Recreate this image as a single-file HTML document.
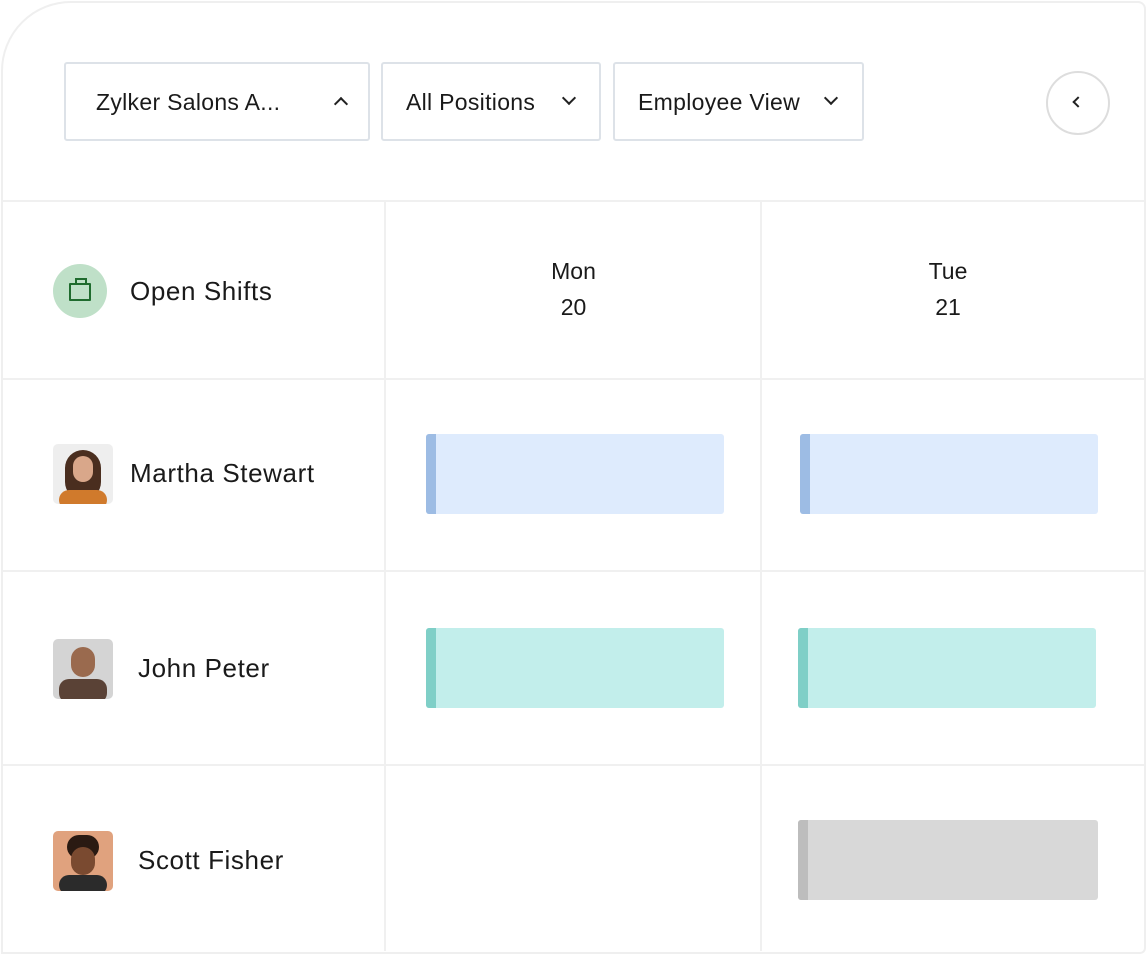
<!DOCTYPE html>
<html><head><style>
body{margin:0;width:1147px;height:954px;background:#fff;font-family:"Liberation Sans",sans-serif;color:#1a1a1a;position:relative;overflow:hidden}
.a{position:absolute}
.card{left:1px;top:1px;width:1141px;height:949px;border:2px solid #efefef;border-top-left-radius:70px;border-top-right-radius:8px;border-bottom-right-radius:6px}
.hl{height:2px;background:#f0f0f0;left:3px;width:1141px}
.vl{width:2px;background:#f0f0f0;top:201px;height:750px}
.dd{border:2px solid #dde2e8;border-radius:3px;height:79px;top:62px;font-size:23px;line-height:77px;box-sizing:border-box;letter-spacing:0.3px}
.chev{position:absolute;width:8px;height:8px;border-right:2px solid #222;border-bottom:2px solid #222}
.name{font-size:26px;letter-spacing:0.6px}
.bar{border-radius:3px;height:80px}
.bar i{position:absolute;left:0;top:0;bottom:0;width:10px;border-radius:3px 0 0 3px}
.av{width:60px;height:60px;border-radius:5px;overflow:hidden}
</style></head><body>
<div class="a card"></div>
<div class="a dd" style="left:64px;width:306px"><span style="margin-left:30px">Zylker Salons A...</span><div class="chev" style="left:270px;top:35px;transform:rotate(-135deg)"></div></div>
<div class="a dd" style="left:381px;width:220px"><span style="margin-left:23px">All Positions</span><div class="chev" style="left:181px;top:29px;transform:rotate(45deg)"></div></div>
<div class="a dd" style="left:613px;width:251px"><span style="margin-left:23px">Employee View</span><div class="chev" style="left:211px;top:29px;transform:rotate(45deg)"></div></div>
<div class="a" style="left:1046px;top:71px;width:60px;height:60px;border:2px solid #ddd;border-radius:50%"></div>
<div class="chev" style="left:1074px;top:98px;width:6px;height:6px;transform:rotate(135deg)"></div>

<div class="a hl" style="top:200px"></div>
<div class="a hl" style="top:378px"></div>
<div class="a hl" style="top:570px"></div>
<div class="a hl" style="top:764px"></div>
<div class="a vl" style="left:384px"></div>
<div class="a vl" style="left:760px"></div>

<div class="a" style="left:53px;top:264px;width:54px;height:54px;border-radius:50%;background:#bfe0c8"></div>
<div class="a" style="left:69px;top:283px;width:18px;height:14px;border:2.5px solid #1f6b2e;border-radius:1px"></div>
<div class="a" style="left:75px;top:278px;width:8px;height:5px;border:2px solid #1f6b2e;border-bottom:none"></div>
<div class="a name" style="left:130px;top:276px">Open Shifts</div>
<div class="a" style="left:386px;width:375px;top:253px;text-align:center;font-size:23px;line-height:36px">Mon<br>20</div>
<div class="a" style="left:762px;width:372px;top:253px;text-align:center;font-size:23px;line-height:36px">Tue<br>21</div>

<div class="a av" style="left:53px;top:444px;background:#eee"><div class="a" style="left:12px;top:6px;width:36px;height:50px;border-radius:18px;background:#4a2e1f"></div><div class="a" style="left:20px;top:12px;width:20px;height:26px;border-radius:10px;background:#d9a78a"></div><div class="a" style="left:6px;top:46px;width:48px;height:20px;border-radius:10px;background:#d07a2c"></div></div>
<div class="a name" style="left:130px;top:458px">Martha Stewart</div>
<div class="a av" style="left:53px;top:639px;background:#d4d4d4"><div class="a" style="left:18px;top:8px;width:24px;height:30px;border-radius:12px;background:#9a6a4e"></div><div class="a" style="left:6px;top:40px;width:48px;height:24px;border-radius:10px;background:#5a4236"></div></div>
<div class="a name" style="left:138px;top:653px">John Peter</div>
<div class="a av" style="left:53px;top:831px;background:#e0a27e"><div class="a" style="left:14px;top:4px;width:32px;height:24px;border-radius:14px;background:#2a1a12"></div><div class="a" style="left:18px;top:16px;width:24px;height:28px;border-radius:12px;background:#7a4a30"></div><div class="a" style="left:6px;top:44px;width:48px;height:20px;border-radius:10px;background:#2b2b2b"></div></div>
<div class="a name" style="left:138px;top:845px">Scott Fisher</div>

<div class="a bar" style="left:426px;top:434px;width:298px;background:#deebfd"><i style="background:#9dbce4"></i></div>
<div class="a bar" style="left:800px;top:434px;width:298px;background:#deebfd"><i style="background:#9dbce4"></i></div>
<div class="a bar" style="left:426px;top:628px;width:298px;background:#c2eeeb"><i style="background:#7fcfc7"></i></div>
<div class="a bar" style="left:798px;top:628px;width:298px;background:#c2eeeb"><i style="background:#7fcfc7"></i></div>
<div class="a bar" style="left:798px;top:820px;width:300px;background:#d8d8d8"><i style="background:#bdbdbd"></i></div>
</body></html>
